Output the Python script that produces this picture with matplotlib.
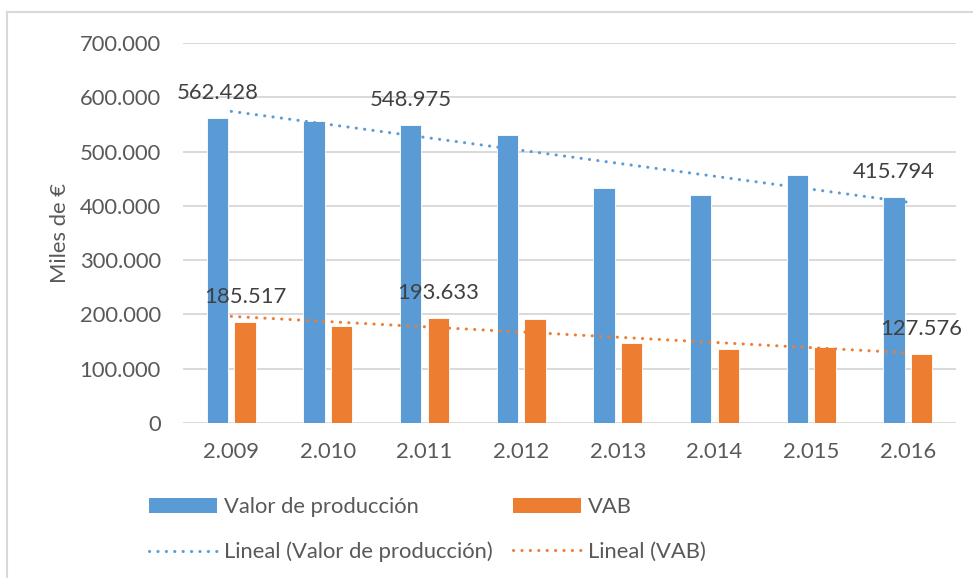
import matplotlib
matplotlib.use("Agg")
import matplotlib.pyplot as plt
import numpy as np
from matplotlib.lines import Line2D
from matplotlib.patches import Patch

# ---- data ----
categories = ["2.009", "2.010", "2.011", "2.012", "2.013", "2.014", "2.015", "2.016"]
valor_produccion = [562428, 556000, 548975, 530000, 433500, 420600, 456200, 415794]
vab = [185517, 178100, 193633, 192200, 148000, 137000, 140700, 127576]
labeled_idx = [0, 2, 7]
y_ticks = [0, 100000, 200000, 300000, 400000, 500000, 600000, 700000]

BLUE = "#5B9BD5"
ORANGE = "#ED7D31"
GRID = "#D9D9D9"
TXT = "#595959"
LBL = "#404040"

plt.rcParams['font.family'] = ['Lato', 'DejaVu Sans']
FS = 15.8

def fmt(v):
    return f"{int(v):,}".replace(",", ".")

fig = plt.figure(figsize=(9.73, 5.78), dpi=100)
ax = fig.add_axes([183/973, 1-423/578, (956-183)/973, (423-43)/578])

x = np.arange(len(categories))
w = 0.222
off = 0.143
ax.bar(x - off, valor_produccion, width=w, color=BLUE, edgecolor="white", linewidth=0.6, zorder=3)
ax.bar(x + off, vab, width=w, color=ORANGE, edgecolor="white", linewidth=0.6, zorder=3)

# linear trendlines
TLW = 2.2
dot = (0, (0.05, 2.7))
for series, col in ((valor_produccion, BLUE), (vab, ORANGE)):
    m, b = np.polyfit(x, series, 1)
    ax.plot(x, m * x + b, color=col, lw=TLW, linestyle=dot, dash_capstyle="round", zorder=4)

# data labels
for i in labeled_idx:
    ax.annotate(fmt(valor_produccion[i]), (x[i] - off, valor_produccion[i]), xytext=(0, 18),
                textcoords="offset points", ha="center", va="center", fontsize=FS, color=LBL, zorder=5)
    ax.annotate(fmt(vab[i]), (x[i] + off, vab[i]), xytext=(0, 18),
                textcoords="offset points", ha="center", va="center", fontsize=FS, color=LBL, zorder=5)

ax.set_xlim(-0.5, len(categories) - 0.5)
ax.set_ylim(0, 700000)
ax.set_yticks(y_ticks)
ax.set_yticklabels([fmt(v) for v in y_ticks])
ax.set_xticks(x)
ax.set_xticklabels(categories)
ax.tick_params(axis="both", length=0, labelsize=FS, labelcolor=TXT)
ax.tick_params(axis="y", pad=16)
ax.tick_params(axis="x", pad=14)
ax.grid(axis="y", color=GRID, lw=1.4, zorder=0)
for s in ax.spines.values():
    s.set_visible(False)
ax.set_ylabel("Miles de €", fontsize=FS, color=TXT, labelpad=7)

# legend
handles = [
    Patch(facecolor=BLUE, edgecolor="none"),
    Line2D([], [], color=BLUE, lw=TLW, linestyle=dot, dash_capstyle="round"),
    Patch(facecolor=ORANGE, edgecolor="none"),
    Line2D([], [], color=ORANGE, lw=TLW, linestyle=dot, dash_capstyle="round"),
]
labels = ["Valor de producción", "Lineal (Valor de producción)", "VAB", "Lineal (VAB)"]
leg = fig.legend(handles, labels, ncol=2, loc="center left",
                 bbox_to_anchor=(149/973, 1 - 529.5/578), frameon=False,
                 fontsize=FS, labelcolor=TXT, handlelength=3.1, handleheight=0.66,
                 handletextpad=0.3, columnspacing=0.95, labelspacing=1.12,
                 borderpad=0, borderaxespad=0)

# chart area border (left and top)
fig.add_artist(Line2D([7/973, 7/973], [0, 1 - 12/578], color=GRID, lw=1.5, transform=fig.transFigure))
fig.add_artist(Line2D([7/973, 1], [1 - 12/578, 1 - 12/578], color=GRID, lw=1.5, transform=fig.transFigure))

fig.savefig("out.png", dpi=100)
